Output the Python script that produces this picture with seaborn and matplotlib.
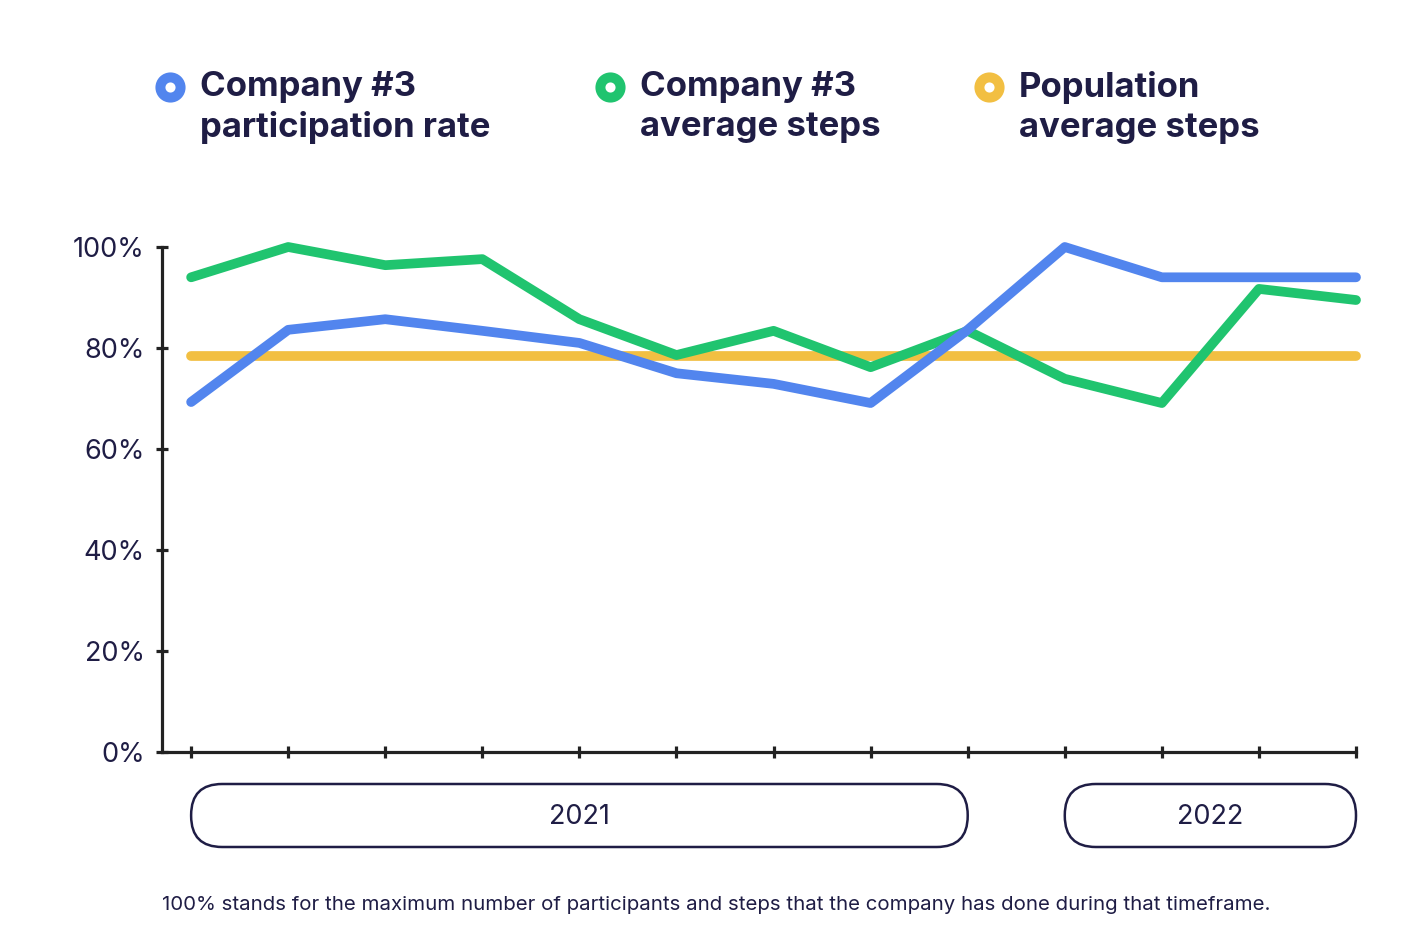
import numpy as np
import pandas as pd
import matplotlib
matplotlib.use("Agg")
import matplotlib.pyplot as plt
import seaborn as sns
from matplotlib.patches import FancyBboxPatch
from matplotlib.lines import Line2D
from matplotlib.transforms import IdentityTransform

# DATA (% of max)

periods = list(range(13))
participation = [69.3, 83.6, 85.7, 83.4, 81.0, 75.0, 72.9, 69.1, 83.6, 100.0, 94.0, 94.0, 94.0]
company_steps = [94.0, 100.0, 96.4, 97.6, 85.7, 78.6, 83.4, 76.2, 83.4, 73.9, 69.1, 91.7, 89.5]
population_steps = [78.4] * 13

series_names = ["Company #3\nparticipation rate", "Company #3\naverage steps", "Population\naverage steps"]
colors = ["#5285ee", "#20c46f", "#f2bf42"]
y_ticks = [0, 20, 40, 60, 80, 100]
years = ["2021", "2022"]
year_spans = [(0, 8), (9, 12)]
footnote = ("100% stands for the maximum number of participants and steps "
            "that the company has done during that timeframe.")

df = pd.DataFrame({
    "period": periods * 3,
    "value": participation + company_steps + population_steps,
    "series": [series_names[0]] * 13 + [series_names[1]] * 13 + [series_names[2]] * 13,
})

# PLOT

sns.set_theme(style="white")
plt.rcParams["font.family"] = ["Inter", "DejaVu Sans"]

NAVY = "#1f1d45"
AXIS = "#222222"

W, H = 1414, 943
fig = plt.figure(figsize=(W / 100, H / 100), dpi=100)
ax = fig.add_axes([162 / W, (H - 752) / H, (1356 - 162) / W, (752 - 247) / H])

# draw order: population, green, blue on top
order = [series_names[2], series_names[1], series_names[0]]
pal = {series_names[i]: colors[i] for i in range(3)}
sns.lineplot(data=df, x="period", y="value", hue="series", hue_order=order,
             palette=pal, linewidth=7, legend=False, ax=ax,
             solid_capstyle="round", solid_joinstyle="round", clip_on=False)

ax.set_xlim(-0.3, 12)
ax.set_ylim(0, 100)
ax.set_xticks(periods)
ax.set_xticklabels([])
ax.set_yticks(y_ticks)
ax.set_yticklabels([f"{t}%" for t in y_ticks])
ax.set_xlabel("")
ax.set_ylabel("")

for s in ["top", "right"]:
    ax.spines[s].set_visible(False)
for s in ["left", "bottom"]:
    ax.spines[s].set_color(AXIS)
    ax.spines[s].set_linewidth(2.3)
ax.tick_params(axis="both", bottom=True, left=True, direction="inout",
               length=9, width=2.3, color=AXIS)
ax.tick_params(axis="y", labelsize=19.5, labelcolor=NAVY, pad=8)
ax.grid(False)

# year boxes below the axis (pixel coords)
for label, (x0, x1) in zip(years, year_spans):
    px0 = ax.transData.transform((x0, 0))[0]
    px1 = ax.transData.transform((x1, 0))[0]
    y_top, y_bot = H - 784, H - 847
    box = FancyBboxPatch((px0, y_bot), px1 - px0, y_top - y_bot,
                         boxstyle="round,pad=0,rounding_size=31",
                         transform=IdentityTransform(), facecolor="white",
                         edgecolor=NAVY, linewidth=1.8, figure=fig)
    fig.patches.append(box)
    fig.text((px0 + px1) / 2 / W, (H - 817) / H, label, ha="center", va="center",
             fontsize=19.5, color=NAVY)

# legend on top
leg_x = [170, 610, 989]
for i in range(3):
    fig.add_artist(Line2D([leg_x[i] / W], [(H - 87) / H], marker="o",
                          markersize=14.5, markeredgewidth=7.2,
                          markerfacecolor="white", markeredgecolor=colors[i],
                          transform=fig.transFigure))
    fig.text((leg_x[i] + 30) / W, (H - 71) / H, series_names[i], ha="left", va="top",
             fontsize=25, fontweight="bold", color=NAVY, linespacing=1.32)

fig.text(162 / W, (H - 905) / H, footnote, ha="left", va="center",
         fontsize=14.7, color=NAVY)

plt.savefig("out.png", dpi=100, facecolor="white")
